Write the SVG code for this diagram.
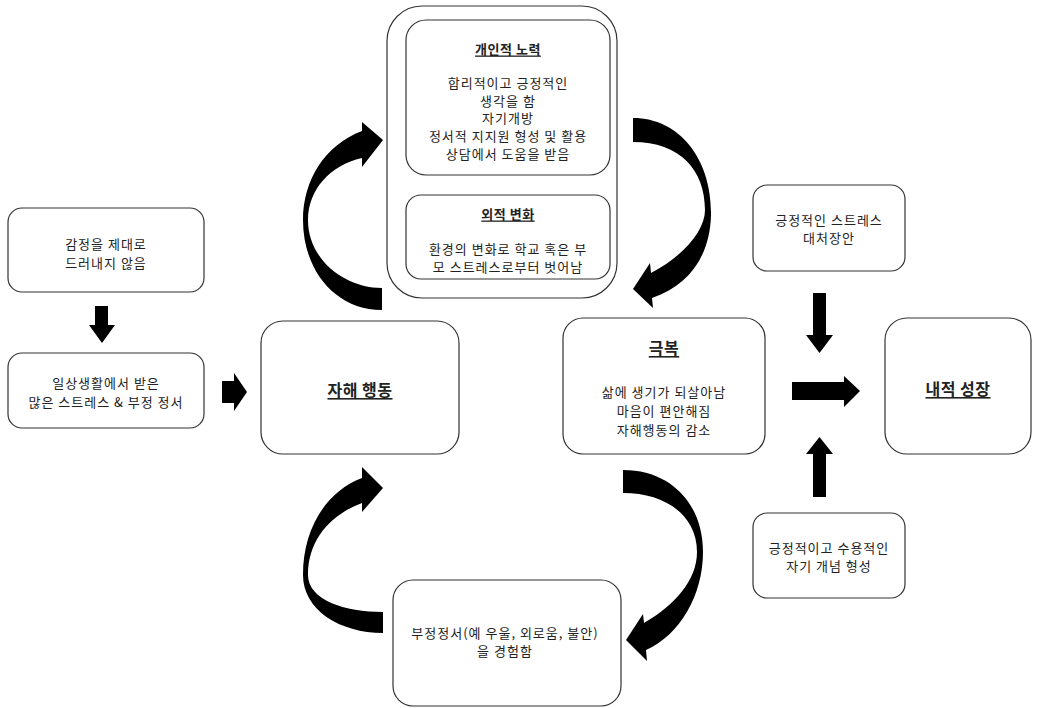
<svg xmlns="http://www.w3.org/2000/svg" width="1041" height="708" viewBox="0 0 1041 708">
<style>
.box{fill:#fff;stroke:#333;stroke-width:1.2}
.t{font-family:"Noto Sans CJK KR","Noto Sans",sans-serif;font-size:13px;fill:#222;text-anchor:middle;dominant-baseline:central;letter-spacing:1px}
.h{font-weight:bold;text-decoration:underline;letter-spacing:0.5px}
.big{font-size:16px}
.arr{fill:#000}
</style>
<rect width="1041" height="708" fill="#fff"/>
<g id="node-suppress">
<rect class="box" x="8" y="208" width="196" height="84" rx="14"/>
<text class="t" x="106" y="243">감정을 제대로</text>
<text class="t" x="106" y="262">드러내지 않음</text>
</g>
<g id="node-stress">
<rect class="box" x="8" y="353" width="196" height="75" rx="14"/>
<text class="t" x="106" y="382">일상생활에서 받은</text>
<text class="t" x="106" y="401">많은 스트레스 &amp; 부정 정서</text>
</g>
<g id="node-selfharm">
<rect class="box" x="261" y="321" width="198" height="133" rx="22"/>
<text class="t h big" x="360" y="389">자해 행동</text>
</g>
<g id="node-top">
<rect class="box" x="387" y="6" width="230" height="292" rx="35"/>
<g id="node-effort">
<rect class="box" x="406" y="20" width="204" height="155" rx="20"/>
<text class="t h" x="508" y="48">개인적 노력</text>
<text class="t" x="508" y="82">합리적이고 긍정적인</text>
<text class="t" x="508" y="100">생각을 함</text>
<text class="t" x="508" y="117">자기개방</text>
<text class="t" x="508" y="135">정서적 지지원 형성 및 활용</text>
<text class="t" x="508" y="153">상담에서 도움을 받음</text>
</g>
<g id="node-external">
<rect class="box" x="406" y="195" width="204" height="84" rx="15"/>
<text class="t h" x="508" y="213">외적 변화</text>
<text class="t" x="508" y="248">환경의 변화로 학교 혹은 부</text>
<text class="t" x="508" y="266">모 스트레스로부터 벗어남</text>
</g>
</g>
<g id="node-overcome">
<rect class="box" x="563" y="318" width="202" height="136" rx="20"/>
<text class="t h big" x="664" y="347">극복</text>
<text class="t" x="664" y="391">삶에 생기가 되살아남</text>
<text class="t" x="664" y="410">마음이 편안해짐</text>
<text class="t" x="664" y="429">자해행동의 감소</text>
</g>
<g id="node-coping">
<rect class="box" x="753" y="185" width="152" height="86" rx="14"/>
<text class="t" x="829" y="219">긍정적인 스트레스</text>
<text class="t" x="829" y="237">대처장안</text>
</g>
<g id="node-growth">
<rect class="box" x="885" y="318" width="146" height="136" rx="22"/>
<text class="t h big" x="958" y="388">내적 성장</text>
</g>
<g id="node-selfconcept">
<rect class="box" x="753" y="513" width="152" height="85" rx="14"/>
<text class="t" x="829" y="547">긍정적이고 수용적인</text>
<text class="t" x="829" y="565">자기 개념 형성</text>
</g>
<g id="node-negative">
<rect class="box" x="393" y="580" width="228" height="126" rx="20"/>
<text class="t" x="505" y="632">부정정서(예 우울, 외로움, 불안)</text>
<text class="t" x="505" y="650">을 경험함</text>
</g>
<g id="connectors">
<polygon class="arr" points="95,306 108,306 108,325 115,325 102,343 89,325 95,325"/>
<polygon class="arr" points="222,381 234,381 234,373 247,392 234,411 234,403 222,403"/>
<path class="arr" d="M382,310 C335,310 303,270 303,220 C303,180 325,145 362,131 L362,122 L383,140 L362,167 L362,158 C330,165 308,190 308,220 C308,260 345,288 382,288 Z"/>
<path class="arr" d="M633,118 C680,118 712,160 711,215 C710,255 690,285 652,298 L653,308 L633,289 L650,263 L651,273 C685,255 705,230 705,210 C705,170 680,142 633,142 Z"/>
<path class="arr" d="M383,633 C340,633 303,610 303,575 C303,530 325,492 362,478 L362,467 L383,488 L362,512 L362,503 C330,515 308,540 308,575 C308,600 345,612 383,612 Z"/>
<path class="arr" d="M623,470 C672,470 703,505 703,552 C703,595 680,635 646,650 L647,661 L626,640 L643,614 L644,623 C675,605 697,580 697,552 C697,515 665,493 623,493 Z"/>
<polygon class="arr" points="813,293 826,293 826,335 833,335 819.5,353 806,335 813,335"/>
<polygon class="arr" points="792,382 844,382 844,376 860,391 844,407 844,400 792,400"/>
<polygon class="arr" points="813,497 826,497 826,454 833,454 819.5,437 806,454 813,454"/>
</g>
</svg>
